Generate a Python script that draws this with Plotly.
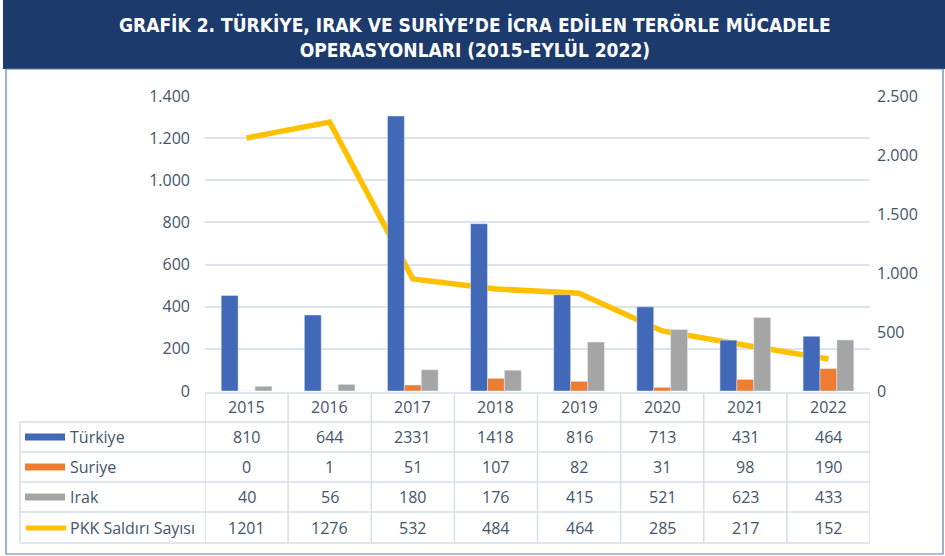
import plotly.graph_objects as go

years = ["2015", "2016", "2017", "2018", "2019", "2020", "2021", "2022"]
turkiye = [810, 644, 2331, 1418, 816, 713, 431, 464]
suriye = [0, 1, 51, 107, 82, 31, 98, 190]
irak = [40, 56, 180, 176, 415, 521, 623, 433]
pkk = [1201, 1276, 532, 484, 464, 285, 217, 152]

series_names = ["Türkiye", "Suriye", "Irak", "PKK Saldırı Sayısı"]
colors = ["#4169B8", "#ED7D31", "#A5A5A5", "#FFC000"]
title_text = "<b>GRAFİK 2. TÜRKİYE, IRAK VE SURİYE’DE İCRA EDİLEN TERÖRLE MÜCADELE<br>OPERASYONLARI (2015-EYLÜL 2022)</b>"

W, H = 945, 556
L, R, T, B = 205, 75, 96, 165
PW, PH = W - L - R, H - T - B


def px_x(x):
    return (x - L) / PW


def px_y(y):
    return (H - B - y) / PH


fig = go.Figure()
for name, vals, col in zip(series_names[:3], [turkiye, suriye, irak], colors[:3]):
    fig.add_trace(go.Bar(x=years, y=vals, name=name, marker_color=col, yaxis="y2", showlegend=False))
fig.add_trace(go.Scatter(x=years, y=pkk, name=series_names[3], mode="lines",
                         line=dict(color=colors[3], width=5.5), yaxis="y", showlegend=False))

font_fam = "Open Sans, Noto Sans, sans-serif"
txt_col = "#44546A"
grid_col = "#DCE3EC"

shapes = []
annotations = []

shapes.append(dict(type="rect", xref="paper", yref="paper", x0=px_x(3), x1=px_x(946), y0=px_y(69), y1=px_y(-1),
                   fillcolor="#1C3A6B", line=dict(width=0), layer="below"))
shapes.append(dict(type="rect", xref="paper", yref="paper", x0=px_x(6), x1=px_x(943), y0=px_y(554), y1=px_y(69),
                   fillcolor="rgba(0,0,0,0)", line=dict(color="#5B7DB1", width=1.2), layer="below"))
annotations.append(dict(text=title_text, xref="paper", yref="paper", x=px_x(475), y=px_y(37),
                        showarrow=False,
                        font=dict(family="DejaVu Sans Condensed, Open Sans, sans-serif",
                                  size=19, color="white"),
                        xanchor="center", yanchor="middle"))

row_lines = [393, 422, 452, 482, 512, 543]
row_centers = [407, 437, 467, 497, 528]
tbl_col = "#D6DEE8"
for i, yy in enumerate(row_lines):
    if i == 0:
        shapes.append(dict(type="line", xref="x", yref="paper", x0=-0.5, x1=7.5, y0=px_y(yy), y1=px_y(yy),
                           line=dict(color=tbl_col, width=1.5)))
    else:
        shapes.append(dict(type="line", xref="paper", yref="paper", x0=px_x(20), x1=1, y0=px_y(yy), y1=px_y(yy),
                           line=dict(color=tbl_col, width=1.5)))
for k in range(9):
    shapes.append(dict(type="line", xref="x", yref="paper", x0=k - 0.5, x1=k - 0.5,
                       y0=px_y(row_lines[0]), y1=px_y(row_lines[-1]), line=dict(color=tbl_col, width=1.5)))
shapes.append(dict(type="line", xref="paper", yref="paper", x0=px_x(20), x1=px_x(20),
                   y0=px_y(row_lines[1]), y1=px_y(row_lines[-1]), line=dict(color=tbl_col, width=1.5)))

cell_font = dict(family=font_fam, size=16, color=txt_col)
for i, yr in enumerate(years):
    annotations.append(dict(text=yr, xref="x", yref="paper", x=i, y=px_y(row_centers[0]), showarrow=False,
                            xanchor="center", yanchor="middle", font=cell_font))
for r, (name, vals, col) in enumerate(zip(series_names, [turkiye, suriye, irak, pkk], colors)):
    yc = px_y(row_centers[r + 1])
    for i, v in enumerate(vals):
        annotations.append(dict(text=str(v), xref="x", yref="paper", x=i, y=yc, showarrow=False,
                                xanchor="center", yanchor="middle", font=cell_font))
    annotations.append(dict(text=name, xref="paper", yref="paper", x=px_x(68), y=yc, xanchor="left",
                            yanchor="middle", showarrow=False, font=cell_font))
    if r < 3:
        shapes.append(dict(type="rect", xref="paper", yref="paper", x0=px_x(25), x1=px_x(65),
                           y0=px_y(row_centers[r + 1] + 3.5), y1=px_y(row_centers[r + 1] - 3.5),
                           fillcolor=col, line=dict(width=0)))
    else:
        shapes.append(dict(type="line", xref="paper", yref="paper", x0=px_x(26), x1=px_x(66),
                           y0=yc, y1=yc, line=dict(color=col, width=5)))

fig.update_layout(
    width=W, height=H,
    margin=dict(l=L, r=R, t=T, b=B, autoexpand=False),
    paper_bgcolor="white", plot_bgcolor="white",
    separators=",.",
    barmode="group", bargap=0.39, bargroupgap=0,
    xaxis=dict(type="category", range=[-0.5, 7.5], showticklabels=False, showgrid=False, zeroline=False,
               showline=False, ticks=""),
    yaxis=dict(range=[0, 1400], tickvals=[0, 200, 400, 600, 800, 1000, 1200, 1400], tickformat=",d",
               showgrid=True, gridcolor=grid_col, gridwidth=1.5, zeroline=False, showline=False,
               tickfont=dict(family=font_fam, size=16, color=txt_col), ticks="", ticklabelstandoff=14),
    yaxis2=dict(range=[0, 2500], tickvals=[0, 500, 1000, 1500, 2000, 2500], tickformat=",d",
                overlaying="y", side="right", showgrid=False, zeroline=False, showline=False,
                tickfont=dict(family=font_fam, size=16, color=txt_col), ticklabelstandoff=6),
    shapes=shapes, annotations=annotations, showlegend=False,
)

fig.write_html("out.html", post_script="document.body.style.margin='0';",
               config={"displayModeBar": False})
